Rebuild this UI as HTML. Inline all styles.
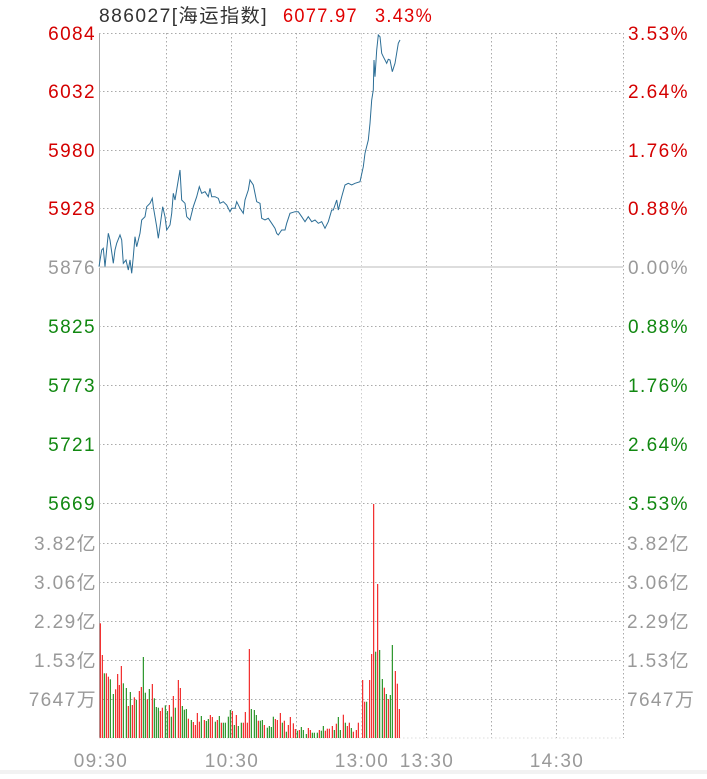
<!DOCTYPE html>
<html><head><meta charset="utf-8"><style>
body{margin:0;background:#fff;width:707px;height:774px;overflow:hidden}
svg text{font-family:"Liberation Sans","Noto Sans CJK SC",sans-serif;font-size:19px;letter-spacing:1.4px}
</style></head><body>
<svg id="s" width="707" height="774" xmlns="http://www.w3.org/2000/svg">
<text x="99" y="22" fill="#333" textLength="169" lengthAdjust="spacingAndGlyphs">886027[海运指数]</text>
<text x="283" y="22" fill="#e00000" textLength="75" lengthAdjust="spacingAndGlyphs">6077.97</text>
<text x="375" y="22" fill="#e00000" textLength="58" lengthAdjust="spacingAndGlyphs">3.43%</text>
<g id="g"></g>
</svg>
<script>
var NS="http://www.w3.org/2000/svg",g=document.getElementById('g');
function el(t,a,txt){var e=document.createElementNS(NS,t);for(var k in a)e.setAttribute(k,a[k]);if(txt)e.textContent=txt;g.appendChild(e);return e;}
[99,166,231,296,361,426,491,556,623].forEach(function(x,i){el('line',{x1:x+.5,y1:33,x2:x+.5,y2:738,stroke:i==4?'#ccc':'#aaa','stroke-dasharray':i==0?'':'1.5,2.5','stroke-width':1});});
var ys=[33,91,150,208,267,326,385,444,503];
var L=['6084','6032','5980','5928','5876','5825','5773','5721','5669'],R=['3.53%','2.64%','1.76%','0.88%','0.00%','0.88%','1.76%','2.64%','3.53%'];
ys.forEach(function(y,i){
 if(i!=4)el('line',{x1:99,y1:y+.5,x2:623,y2:y+.5,stroke:'#aaa','stroke-dasharray':'1.5,2.5'});
 else el('line',{x1:99,y1:y,x2:623,y2:y,stroke:'#ddd','stroke-width':2});
 var c=i<4?'#d40000':(i==4?'#999':'#118811');
 el('text',{x:96,y:y+7,fill:c,'text-anchor':'end'},L[i]);
 el('text',{x:628,y:y+7,fill:c},R[i]);
});
var vy=[543,582,621,660,699],VL=['3.82亿','3.06亿','2.29亿','1.53亿','7647万'];
vy.forEach(function(y,i){el('line',{x1:99,y1:y+.5,x2:623,y2:y+.5,stroke:'#aaa','stroke-dasharray':'1.5,2.5'});
 el('text',{x:97,y:y+7,fill:'#999','text-anchor':'end'},VL[i]);el('text',{x:627,y:y+7,fill:'#999'},VL[i]);});
el('line',{x1:99,y1:738,x2:623,y2:738,stroke:'#ddd','stroke-dasharray':'1.5,2.5'});
[['09:30',101],['10:30',232],['13:00',362],['13:30',427],['14:30',557]].forEach(function(t){el('text',{x:t[1],y:767,fill:'#999','text-anchor':'middle'},t[0]);});
el('rect',{x:0,y:770,width:707,height:4,fill:'#f2f2f2'});
var P=[27,800,35,750,40,745,45,800,55,700,60,720,70,790,75,750,80,730,90,705,95,720,100,790,108,780,115,810,120,780,125,820,130,770,135,710,140,740,150,700,155,660,165,650,170,620,180,610,187,595,190,620,200,680,205,715,210,680,218,620,225,650,230,690,240,675,245,640,250,580,255,600,265,540,270,510,275,600,285,610,290,650,300,660,310,620,320,590,328,560,335,580,345,575,355,590,360,565,365,590,375,590,385,595,390,610,400,605,410,615,420,635,425,625,435,625,440,605,450,625,460,640,465,600,475,570,480,540,490,555,500,605,510,610,515,655,525,660,535,655,545,670,555,685,560,700,565,705,575,690,585,690,590,670,600,640,615,635,625,635,635,650,645,665,655,650,665,665,675,660,685,670,695,665,705,685,715,665,725,630,730,630,740,600,745,630,755,590,765,555,775,550,785,555,795,550,810,545,820,500,825,460,835,420,840,370,845,300,850,270,852,180,855,230,860,150,865,105,870,110,875,160,880,170,890,190,895,178,900,180,907,215,915,190,925,130,930,120];
var pts=[];for(var i=0;i<P.length;i+=2)pts.push((90+P[i]/3).toFixed(1)+','+(P[i+1]/3).toFixed(1));
el('polyline',{points:pts.join(' '),fill:'none',stroke:'#2c6e96','stroke-width':1});
var V="31,400,r 37,495,r 43,550,g 49,550,r 55,560,r 61,568,g 70,612,g 77,598,r 83,552,r 88,585,r 94,528,r 100,580,g 109,594,g 115,648,r 121,606,g 127,645,r 133,622,r 139,630,g 148,603,r 154,591,r 160,501,g 166,608,g 172,628,r 178,597,g 187,582,r 193,625,g 199,651,g 205,653,g 211,663,r 217,653,r 226,646,g 232,663,g 238,645,r 244,680,g 250,618,r 256,653,g 265,570,r 271,594,r 277,648,g 283,659,g 289,657,g 295,686,r 304,690,g 310,696,r 316,705,r 322,669,r 328,695,r 334,678,g 343,690,r 349,693,g 355,687,g 361,675,r 367,681,r 376,695,g 382,690,r 388,678,g 394,698,r 400,698,g 406,698,g 415,680,g 421,660,g 427,663,r 433,705,g 439,675,r 445,708,g 454,698,g 460,698,r 466,666,r 472,698,r 478,477,r 484,657,g 493,660,g 499,675,g 505,692,r 511,692,g 517,690,g 523,705,r 532,713,g 538,708,g 544,711,g 550,680,g 556,687,r 562,690,r 571,669,r 577,698,g 583,692,r 589,725,g 595,705,r 601,681,r 610,700,r 616,717,r 622,722,g 628,720,r 634,711,g 640,720,g 649,732,g 655,714,r 661,720,r 667,728,g 673,728,g 682,728,g 688,720,r 694,722,g 700,708,g 706,722,r 712,716,r 718,716,r 727,708,r 733,720,g 739,701,r 745,681,g 751,720,g 760,674,r 766,698,g 772,708,r 778,698,r 784,714,g 790,725,r 799,720,r 805,698,r 818,570,r 824,635,r 830,635,g 839,570,r 845,492,r 851,42,r 857,485,g 863,282,r 869,480,g 877,567,g 883,593,r 889,612,g 895,627,r 901,615,g 907,465,g 916,543,r 922,581,r 928,657,r".split(' ');
V.forEach(function(s){var a=s.split(','),x=90+a[0]/3,y=490+a[1]/3;el('rect',{x:(x-0.5).toFixed(1),y:y.toFixed(1),width:1,height:(738-y).toFixed(1),fill:a[2]=='r'?'#ee0000':'#008000'});});
</script>
</body></html>
